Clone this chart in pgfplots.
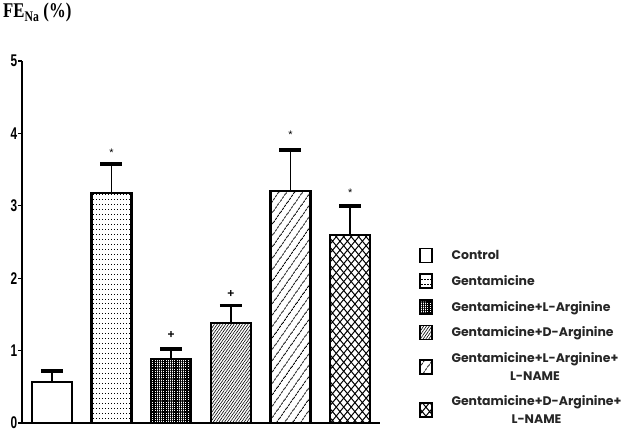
\documentclass[border=0pt]{standalone}
\usepackage{pgfplots}
\pgfplotsset{compat=1.18}
\usepackage{fontspec}
\setmainfont{Liberation Sans}
\newfontfamily\serifb{Liberation Serif}
\newfontfamily\legfont{Poppins}
\usetikzlibrary{patterns,patterns.meta}

% rows of small dots (Gentamicine)
\pgfdeclarepatternformonly{rowdots}{\pgfqpoint{-1pt}{-1pt}}{\pgfqpoint{4pt}{6pt}}{\pgfqpoint{3pt}{5pt}}{%
  \pgfpathrectangle{\pgfqpoint{0pt}{0pt}}{\pgfqpoint{1.3pt}{1pt}}\pgfusepath{fill}}
% diamonds (Gentamicine+D-Arginine+L-NAME)
\pgfdeclarepatternformonly{diamonds}{\pgfqpoint{-1pt}{-1pt}}{\pgfqpoint{8.5pt}{10pt}}{\pgfqpoint{7.5pt}{9pt}}{%
  \pgfsetlinewidth{1pt}%
  \pgfpathmoveto{\pgfqpoint{0pt}{0pt}}\pgfpathlineto{\pgfqpoint{7.5pt}{9pt}}%
  \pgfpathmoveto{\pgfqpoint{0pt}{9pt}}\pgfpathlineto{\pgfqpoint{7.5pt}{0pt}}%
  \pgfusepath{stroke}}

\begin{document}
\begin{tikzpicture}
\useasboundingbox (-22bp,-11bp) rectangle (611bp,423bp);
\begin{axis}[
  at={(0,0)}, anchor=south west,
  scale only axis, width=358bp, height=362bp,
  xmin=-0.5, xmax=5.5, ymin=0, ymax=5,
  axis x line*=bottom, axis y line*=left,
  axis line style={line width=1.8bp},
  xtick=\empty, ytick={0,1,2,3,4,5},
  tick align=outside, major tick length=4bp,
  tick style={line width=1.2bp, black},
  yticklabel style={font=\bfseries\fontsize{17}{17}\selectfont, xscale=0.7, inner sep=1bp},
  /pgf/number format/assume math mode=true,
  ybar, bar width=0.67, bar shift=0pt,
  every axis plot/.append style={draw=black, line width=2.2bp, fill=white},
  error bars/y dir=plus, error bars/y explicit,
  error bars/error bar style={line width=1.5bp, black},
  error bars/error mark options={rotate=90, mark size=11bp, line width=3.5bp, black},
  legend cell align=left,
  legend image code/.code={\draw[#1, line width=1.6bp] (0bp,-7bp) rectangle (12bp,7bp);},
  legend style={at={(1.10,0.49)}, anchor=north west, draw=none, fill=none,
    font=\legfont\bfseries\fontsize{12.5}{18}\selectfont, text=black!85,
    nodes={align=center}, row sep=10bp,
    /tikz/every odd column/.append style={column sep=17bp}},
]
\addplot[draw=black, fill=white] coordinates {(0,0.57) +- (0,0.15)};
\addlegendentry{Control}
\addplot[pattern=rowdots] coordinates {(1,3.18) +- (0,0.40)};
\addlegendentry{Gentamicine}
\addplot[pattern={Hatch[angle=0, distance=2.2bp, line width=1.2bp]}] coordinates {(2,0.88) +- (0,0.14)};
\addlegendentry{Gentamicine+L-Arginine}
\addplot[pattern={Lines[angle=55, distance=2.3bp, line width=0.6bp]}] coordinates {(3,1.38) +- (0,0.24)};
\addlegendentry{Gentamicine+D-Arginine}
\addplot[pattern={Lines[angle=55, distance=6bp, line width=0.9bp]}] coordinates {(4,3.20) +- (0,0.57)};
\addlegendentry{Gentamicine+L-Arginine+\\L-NAME}
\addplot[pattern=diamonds] coordinates {(5,2.60) +- (0,0.40)};
\addlegendentry{Gentamicine+D-Arginine+\\L-NAME}

\node[font=\fontsize{11}{11}\selectfont] at (axis cs:1,3.73) {*};
\node[font=\fontsize{11}{11}\selectfont] at (axis cs:4,3.98) {*};
\node[font=\fontsize{11}{11}\selectfont] at (axis cs:5,3.18) {*};
\node[font=\bfseries\fontsize{12}{12}\selectfont] at (axis cs:2,1.22) {+};
\node[font=\bfseries\fontsize{12}{12}\selectfont] at (axis cs:3,1.78) {+};
\end{axis}
\node[anchor=base west, inner sep=0, xscale=0.8, font=\serifb\bfseries\fontsize{21}{21}\selectfont]
  at (-19bp,405bp) {FE\textsubscript{Na} (\%)};
\end{tikzpicture}
\end{document}
